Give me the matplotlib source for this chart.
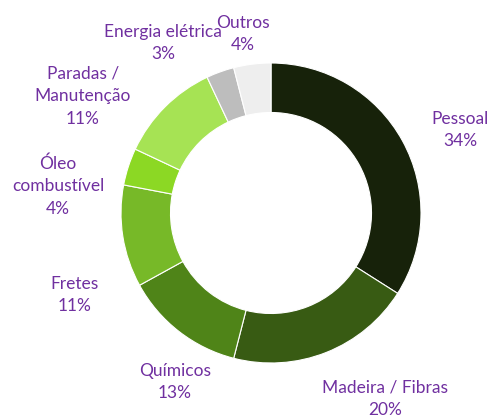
import matplotlib.pyplot as plt

# dados do gráfico
categorias = ['Pessoal', 'Madeira / Fibras', 'Químicos', 'Fretes', 'Óleo\ncombustível',
              'Paradas /\nManutenção', 'Energia elétrica', 'Outros']
percentuais = [34, 20, 13, 11, 4, 11, 3, 4]
cores = ['#17220a', '#385b13', '#4f8418', '#77b928', '#8cd824', '#a6e354', '#bdbdbd', '#eeeeee']

# posicoes dos rótulos (pixels da imagem)
pos_rotulos = [(460, 130), (385, 399), (175, 382), (75, 295), (58, 186),
               (83, 96), (163, 43), (243, 34)]

W, H = 492, 417
cx, cy, R = 271, 213, 150

fig = plt.figure(figsize=(W / 100, H / 100), dpi=100)
ax = fig.add_axes([0, 0, 1, 1])

ax.pie(percentuais, colors=cores, startangle=90, counterclock=False, radius=1,
       wedgeprops=dict(width=0.33, edgecolor='white', linewidth=0.8))

# pie() redefine os limites, então ajusta depois
ax.set_xlim(-cx / R, (W - cx) / R)
ax.set_ylim(-(H - cy) / R, cy / R)
ax.set_aspect('equal')
ax.axis('off')

for cat, p, (px, py) in zip(categorias, percentuais, pos_rotulos):
    x = (px - cx) / R
    y = (cy - py) / R
    ax.text(x, y, f'{cat}\n{p}%', ha='center', va='center', color='#7030a0',
            fontsize=12.5, family=['Lato', 'DejaVu Sans'], linespacing=1.5)

fig.savefig('out.png', dpi=100)
